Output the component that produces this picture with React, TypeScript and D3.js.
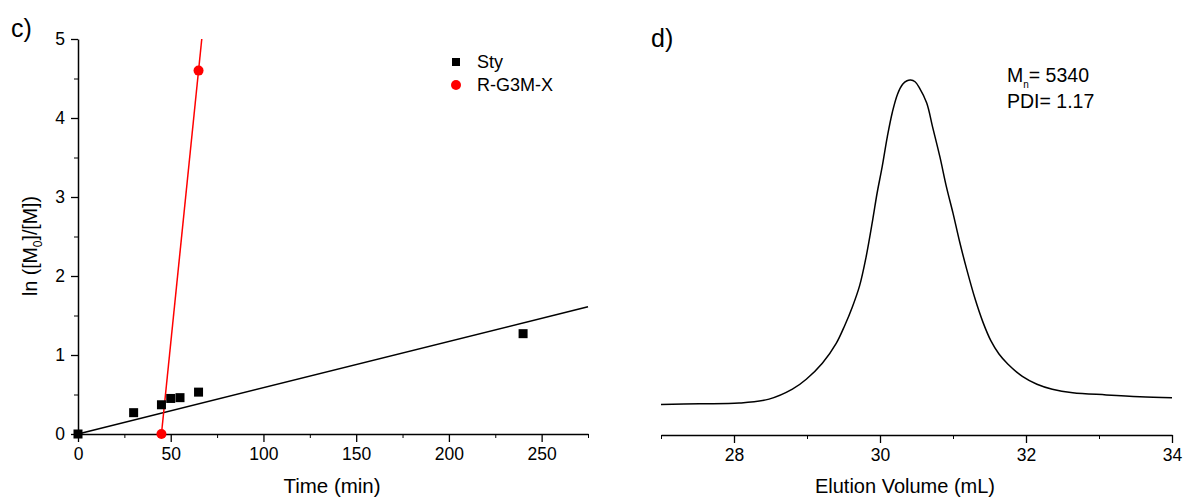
import * as d3 from "d3";
import { useEffect, useRef } from "react";

// panel c) kinetics
const styTime = [0, 30, 45, 50, 55, 65, 240];
const styLn = [0, 0.27, 0.37, 0.45, 0.46, 0.53, 1.27];
const rTime = [45, 65];
const rLn = [0, 4.6];
// linear fits: [intercept, slope]
const styFit = [0, 0.00586];
const rFit = [-10.35, 0.23];
const timeTicks = [0, 50, 100, 150, 200, 250];
const lnTicks = [0, 1, 2, 3, 4, 5];

// panel d) SEC trace (arbitrary intensity, peak = 1)
const elutionVolume = [
  27.0, 27.53, 28.07, 28.48, 28.8, 28.99, 29.21, 29.4, 29.52, 29.62, 29.72, 29.81,
  29.9, 29.96, 30.03, 30.1, 30.17, 30.24, 30.31, 30.37, 30.42, 30.48, 30.54, 30.64,
  30.72, 30.82, 30.91, 31.0, 31.09, 31.19, 31.3, 31.41, 31.52, 31.63, 31.75, 31.95,
  32.15, 32.36, 32.64, 33.1, 33.56, 34.0,
];
const signal = [
  0.086, 0.088, 0.09, 0.101, 0.129, 0.157, 0.202, 0.258, 0.31, 0.36, 0.42, 0.502,
  0.606, 0.681, 0.756, 0.84, 0.91, 0.96, 0.988, 0.998, 1.0, 0.995, 0.978, 0.935,
  0.868, 0.784, 0.699, 0.625, 0.545, 0.465, 0.385, 0.318, 0.265, 0.228, 0.2, 0.165,
  0.143, 0.129, 0.119, 0.113, 0.108, 0.105,
];
const volTicks = [28, 30, 32, 34];

const FONT = "'Liberation Sans', Arial, sans-serif";

const App = () => {
  const ref = useRef(null);

  const xC = d3.scaleLinear().domain([0, 275]).range([78, 588]);
  const yC = d3.scaleLinear().domain([0, 5]).range([434, 39]);
  const xD = d3.scaleLinear().domain([27, 34]).range([661, 1172]);
  const yD = d3.scaleLinear().domain([0, 1]).range([435, 80]);

  useEffect(() => {
    const svg = d3.select(ref.current);
    svg.selectAll("*").remove();

    const styleAxis = (g) => {
      g.select(".domain").attr("stroke-width", 1.5);
      g.selectAll(".tick line").attr("stroke-width", 1.3);
      g.selectAll("text").attr("font-family", FONT).attr("font-size", 17.5).attr("fill", "#000");
    };
    const fmt = d3.format("d");

    // ---- panel c
    svg.append("g")
      .attr("transform", `translate(0, ${yC(0)})`)
      .call(d3.axisBottom(xC).tickValues(d3.range(25, 276, 50)).tickSize(4).tickFormat(() => ""))
      .call(g => g.select(".domain").remove());
    svg.append("g")
      .attr("transform", `translate(0, ${yC(0)})`)
      .call(d3.axisBottom(xC).tickValues(timeTicks).tickFormat(fmt).tickSize(8).tickSizeOuter(0).tickPadding(6))
      .call(styleAxis);

    svg.append("g")
      .attr("transform", `translate(${xC(0)}, 0)`)
      .call(d3.axisLeft(yC).tickValues(d3.range(0.5, 5, 1)).tickSize(4).tickFormat(() => ""))
      .call(g => g.select(".domain").remove());
    svg.append("g")
      .attr("transform", `translate(${xC(0)}, 0)`)
      .call(d3.axisLeft(yC).tickValues(lnTicks).tickFormat(fmt).tickSize(7).tickSizeOuter(0).tickPadding(6))
      .call(styleAxis);

    const line = d3.line().x(d => xC(d[0])).y(d => yC(d[1]));

    // fits
    svg.append("path")
      .attr("d", line([[0, styFit[0]], [275, styFit[0] + styFit[1] * 275]]))
      .attr("stroke", "#000").attr("stroke-width", 1.5).attr("fill", "none");
    const rEnd = (5 - rFit[0]) / rFit[1];
    const rStart = -rFit[0] / rFit[1];
    svg.append("path")
      .attr("d", line([[rStart, 0], [rEnd, 5]]))
      .attr("stroke", "#ff0000").attr("stroke-width", 1.5).attr("fill", "none");

    // points
    svg.selectAll(".sty")
      .data(styTime.map((t, i) => [t, styLn[i]]))
      .enter()
      .append("rect")
      .attr("x", d => xC(d[0]) - 4.5)
      .attr("y", d => yC(d[1]) - 4.5)
      .attr("width", 9)
      .attr("height", 9)
      .attr("fill", "#000");
    svg.selectAll(".rg")
      .data(rTime.map((t, i) => [t, rLn[i]]))
      .enter()
      .append("circle")
      .attr("cx", d => xC(d[0]))
      .attr("cy", d => yC(d[1]))
      .attr("r", 5)
      .attr("fill", "#ff0000");

    // ---- panel d
    svg.append("g")
      .attr("transform", `translate(0, ${yD(0)})`)
      .call(d3.axisBottom(xD).tickValues([27, 29, 31, 33]).tickSize(4).tickFormat(() => ""))
      .call(g => g.select(".domain").remove());
    svg.append("g")
      .attr("transform", `translate(0, ${yD(0)})`)
      .call(d3.axisBottom(xD).tickValues(volTicks).tickFormat(fmt).tickSize(8).tickSizeOuter(0).tickPadding(6))
      .call(styleAxis);

    const trace = d3.line()
      .x(d => xD(d[0]))
      .y(d => yD(d[1]))
      .curve(d3.curveCatmullRom);
    svg.append("path")
      .attr("d", trace(elutionVolume.map((v, i) => [v, signal[i]])))
      .attr("stroke", "#000").attr("stroke-width", 1.5).attr("fill", "none");
  }, []);

  return (
    <svg width={1183} height={497} style={{ position: "absolute", left: 0, top: 0, background: "#fff" }}
      fontFamily={FONT}>
      <g ref={ref}></g>

      {/* panel c labels */}
      <text x={11} y={37} fontSize={25}>c)</text>
      <text x={332} y={493} fontSize={20.5} textAnchor="middle">Time (min)</text>
      <text transform="translate(37, 246) rotate(-90)" fontSize={19.5} textAnchor="middle">
        ln ([M<tspan fontSize={12} dy={5}>0</tspan><tspan dy={-5}>]/[M])</tspan>
      </text>

      {/* legend */}
      <rect x={452} y={58} width={8} height={8} fill="#000" />
      <text x={477} y={68} fontSize={18}>Sty</text>
      <circle cx={456} cy={85} r={5} fill="#ff0000" />
      <text x={477} y={91} fontSize={18}>R-G3M-X</text>

      {/* panel d labels */}
      <text x={651} y={47} fontSize={25}>d)</text>
      <text x={905} y={493} fontSize={20} textAnchor="middle">Elution Volume (mL)</text>
      <text x={1007} y={82} fontSize={19.5}>
        M<tspan fontSize={10} dy={6}>n</tspan><tspan dy={-6}>= 5340</tspan>
      </text>
      <text x={1007} y={108} fontSize={19.5}>PDI= 1.17</text>
    </svg>
  );
};

export default App;
